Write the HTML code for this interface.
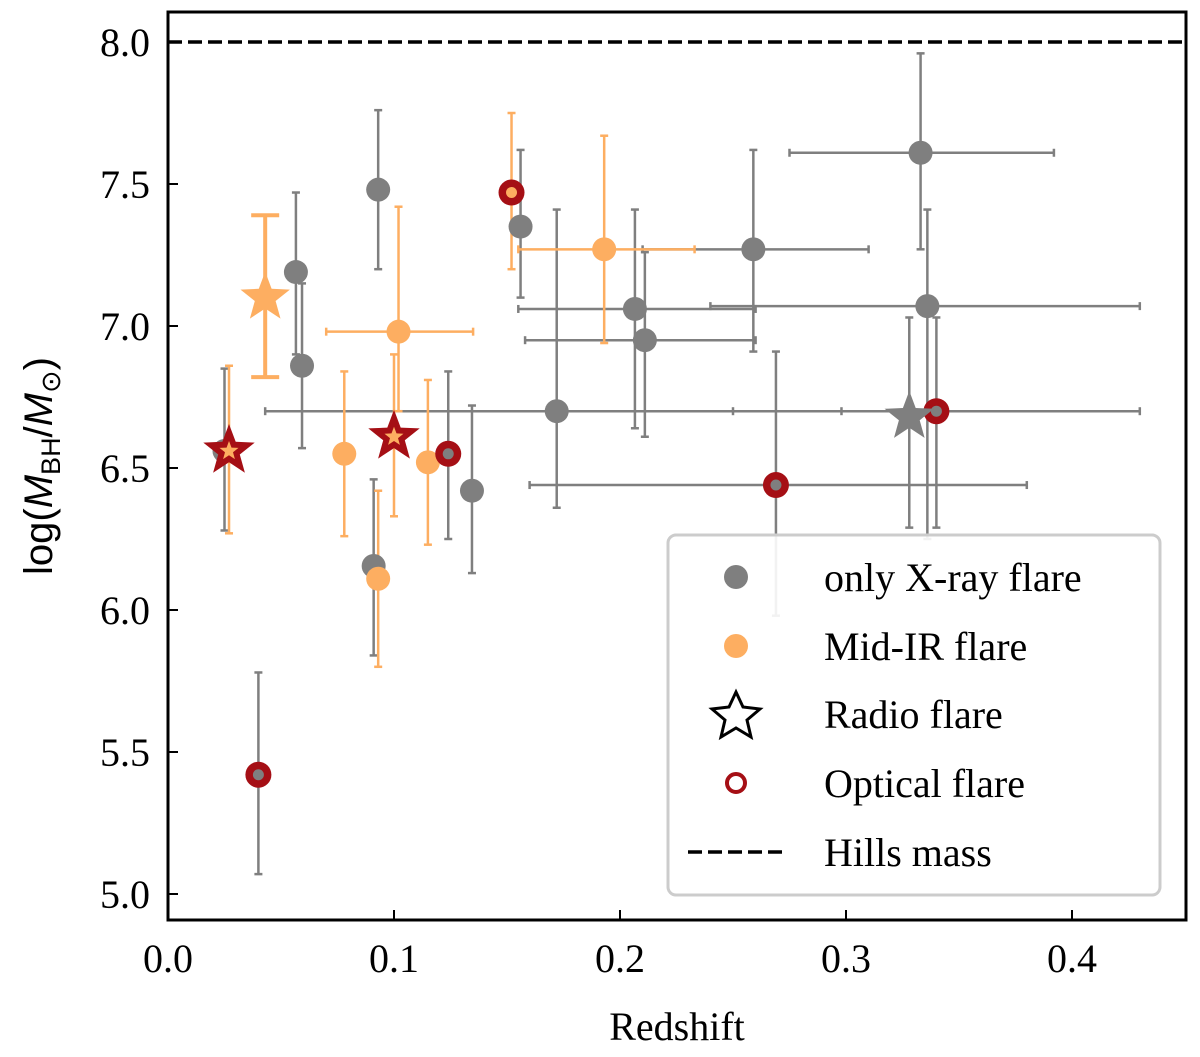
<!DOCTYPE html>
<html><head><meta charset="utf-8"><style>
html,body{margin:0;padding:0;background:#fff;}
svg{display:block;}
text{font-family:"Liberation Serif",serif;}
</style></head><body>
<svg id="chart" width="1200" height="1057" viewBox="0 0 1200 1057" xmlns="http://www.w3.org/2000/svg">
<g id="marks"></g>
<g id="axes"></g>
</svg>
<script>
// ---- data ----
const greyZ   = [0.025,0.0566,0.0593,0.093,0.091,0.1345,0.156,0.172,0.2066,0.211,0.259,0.333,0.336];
const greyM   = [6.56,7.19,6.86,7.48,6.155,6.42,7.35,6.70,7.06,6.95,7.27,7.61,7.07];
const greyHi  = [6.85,7.47,7.15,7.76,6.46,6.72,7.62,7.41,7.41,7.26,7.62,7.96,7.41];
const greyLo  = [6.28,6.90,6.57,7.20,5.84,6.13,7.10,6.36,6.64,6.61,6.91,7.27,6.25];
const greyZlo = [null,null,null,null,null,null,null,0.043,0.155,0.158,0.21,0.275,0.24];
const greyZhi = [null,null,null,null,null,null,null,0.298,0.26,0.26,0.31,0.392,0.43];

const orangeZ  = [0.078,0.102,0.093,0.115,0.193];
const orangeM  = [6.55,6.98,6.11,6.52,7.27];
const orangeHi = [6.84,7.42,6.42,6.81,7.67];
const orangeLo = [6.26,6.70,5.80,6.23,6.94];
const orangeZlo= [null,0.07,null,null,0.155];
const orangeZhi= [null,0.135,null,null,0.233];

const optZ    = [0.152,0.124,0.04,0.269,0.34];
const optM    = [7.47,6.55,5.42,6.44,6.70];
const optHi   = [7.75,6.84,5.78,6.91,7.03];
const optLo   = [7.20,6.25,5.07,5.98,6.29];
const optZlo  = [null,null,null,0.16,0.25];
const optZhi  = [null,null,null,0.38,0.43];
const optIn   = ['o','g','g','g','g'];

const radZ   = [0.043,0.027,0.10,0.328];
const radM   = [7.10,6.56,6.61,6.68];
const radHi  = [7.39,6.86,6.90,7.03];
const radLo  = [6.82,6.27,6.33,6.29];
const radCol = ['orange','redO','redO','grey'];

const xTicks = [0.0,0.1,0.2,0.3,0.4];
const yTicks = [5.0,5.5,6.0,6.5,7.0,7.5,8.0];
const hillsMass = 8.0;

const X0=168,X1=1186,Y0=12,Y1=920;
const xS=z=>168+z*2260;
const yS=m=>894-(m-5)*284;
const NS="http://www.w3.org/2000/svg";
const G="#7f7f7f",O="#fdae61",R="#a50f15";
const marks=document.getElementById('marks'),axes=document.getElementById('axes');
function el(tag,attrs,parent){const e=document.createElementNS(NS,tag);for(const k in attrs)e.setAttribute(k,attrs[k]);parent.appendChild(e);return e;}
function errbar(z,m,lo,hi,zlo,zhi,col,w,cap){
  const g=el('g',{},marks);
  
  
  const x=xS(z);
  el('line',{x1:x,x2:x,y1:yS(hi),y2:yS(lo),stroke:col,'stroke-width':w},g);
  el('line',{x1:x-cap,x2:x+cap,y1:yS(hi),y2:yS(hi),stroke:col,'stroke-width':w},g);
  el('line',{x1:x-cap,x2:x+cap,y1:yS(lo),y2:yS(lo),stroke:col,'stroke-width':w},g);
  if(zlo!=null){const y=yS(m);
    el('line',{x1:xS(zlo),x2:xS(zhi),y1:y,y2:y,stroke:col,'stroke-width':w},g);
    el('line',{x1:xS(zlo),x2:xS(zlo),y1:y-cap,y2:y+cap,stroke:col,'stroke-width':w},g);
    el('line',{x1:xS(zhi),x2:xS(zhi),y1:y-cap,y2:y+cap,stroke:col,'stroke-width':w},g);}
}
function starPts(cx,cy,r){let p=[];for(let i=0;i<10;i++){const a=-Math.PI/2+i*Math.PI/5;const rr=i%2?r*0.42:r;p.push((cx+rr*Math.cos(a)).toFixed(1)+','+(cy+rr*Math.sin(a)).toFixed(1));}return p.join(' ');}

greyZ.forEach((z,i)=>errbar(z,greyM[i],greyLo[i],greyHi[i],greyZlo[i],greyZhi[i],G,2.5,4));
optZ.forEach((z,i)=>errbar(z,optM[i],optLo[i],optHi[i],optZlo[i],optZhi[i],optIn[i]=='o'?O:G,2.5,4));
orangeZ.forEach((z,i)=>errbar(z,orangeM[i],orangeLo[i],orangeHi[i],orangeZlo[i],orangeZhi[i],O,2.5,4));
radZ.forEach((z,i)=>errbar(z,radM[i],radLo[i],radHi[i],null,null,radCol[i]=='grey'?G:O,i==0?4:2.5,i==0?14:4));

greyZ.forEach((z,i)=>{const c=el('circle',{cx:xS(z),cy:yS(greyM[i]),r:12,fill:G},marks);

});
orangeZ.forEach((z,i)=>{const c=el('circle',{cx:xS(z),cy:yS(orangeM[i]),r:12,fill:O},marks);

});
optZ.forEach((z,i)=>{const c=el('circle',{cx:xS(z),cy:yS(optM[i]),r:13,fill:R},marks);


el('circle',{cx:xS(z),cy:yS(optM[i]),r:5.5,fill:optIn[i]=='o'?O:G},marks);});
radZ.forEach((z,i)=>{const x=xS(z),y=yS(radM[i]);let s;
 if(radCol[i]=='orange') s=el('polygon',{points:starPts(x,y,26),fill:O},marks);
 else if(radCol[i]=='grey') s=el('polygon',{points:starPts(x,y,26),fill:G},marks);
 else {s=el('polygon',{points:starPts(x,y,27),fill:R},marks);el('polygon',{points:starPts(x,y,10),fill:O},marks);}
 
 });

const hl=el('line',{x1:X0,x2:X1,y1:yS(hillsMass),y2:yS(hillsMass),stroke:'#000','stroke-width':3.5,'stroke-dasharray':'14,6'},axes);



const fr=el('rect',{x:X0,y:Y0,width:X1-X0,height:Y1-Y0,fill:'none',stroke:'#000','stroke-width':3},axes);


xTicks.forEach(t=>{const x=xS(t);el('line',{x1:x,x2:x,y1:Y1,y2:Y1-10,stroke:'#000','stroke-width':2},axes);
 const tx=el('text',{x:x,y:972,'font-size':40,'text-anchor':'middle'},axes);tx.textContent=t.toFixed(1);
 
 });
yTicks.forEach(t=>{const y=yS(t);el('line',{x1:X0,x2:X0+10,y1:y,y2:y,stroke:'#000','stroke-width':2},axes);
 const tx=el('text',{x:150,y:y+14,'font-size':40,'text-anchor':'end'},axes);tx.textContent=t.toFixed(1);
 
 });
</script>
<svg style="position:absolute;left:0;top:0" width="1200" height="1057" xmlns="http://www.w3.org/2000/svg">
<text x="677" y="1040" font-size="40" text-anchor="middle">Redshift</text>
<text transform="translate(52,466) rotate(-90)" font-size="40" text-anchor="middle" style="font-family:'Liberation Sans',sans-serif">log(<tspan font-style="italic">M</tspan><tspan font-size="27" dy="8">BH</tspan><tspan dy="-8">/</tspan><tspan font-style="italic">M</tspan><tspan font-size="27" dy="8">⊙</tspan><tspan dy="-8">)</tspan></text>
<g>
<rect x="668" y="535" width="492" height="360" rx="8" fill="#fff" fill-opacity="0.9" stroke="#ccc" stroke-width="3"/>
<circle cx="736" cy="577" r="12" fill="#7f7f7f"/>
<text x="824" y="591" font-size="40">only X-ray flare</text>
<circle cx="736" cy="646" r="12" fill="#fdae61"/>
<text x="824" y="660" font-size="40">Mid-IR flare</text>
<polygon points="736,692 743,707 760,709 747,720 751,737 736,728 721,737 725,720 712,709 729,707" fill="none" stroke="#000" stroke-width="3"/>
<text x="824" y="728" font-size="40">Radio flare</text>
<circle cx="736" cy="783" r="9" fill="#fff" stroke="#a50f15" stroke-width="4"/>
<text x="824" y="797" font-size="40">Optical flare</text>
<line x1="688" x2="785" y1="852" y2="852" stroke="#000" stroke-width="3.5" stroke-dasharray="14,6"/>
<text x="824" y="866" font-size="40">Hills mass</text>
</g>
</svg>
</body></html>
